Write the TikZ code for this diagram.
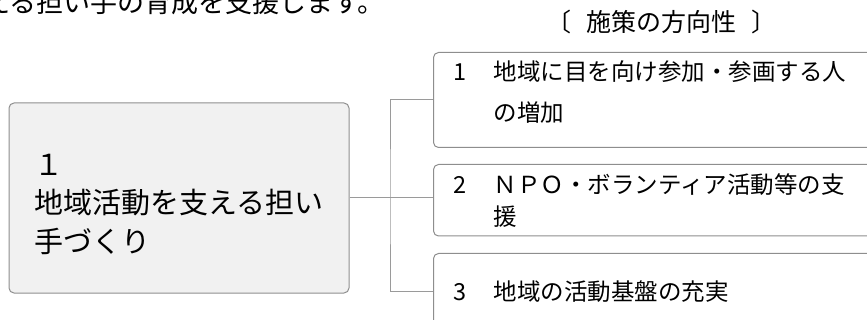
\documentclass[tikz,border=0pt]{standalone}
\usepackage{fontspec}
\setmainfont{Noto Sans CJK JP}
\usetikzlibrary{positioning,calc}
\definecolor{boxgray}{HTML}{8E8E8E}
\definecolor{linegray}{HTML}{9A9A9A}
\definecolor{goalfill}{HTML}{F1F1F1}

\begin{document}
\begin{tikzpicture}[x=1pt,y=-1pt,
    goal/.style={draw=boxgray, fill=goalfill, rounded corners=5pt, line width=1pt, minimum width=340pt, minimum height=190pt, align=left, inner sep=0pt},
    measure/.style={draw=boxgray, fill=white, rounded corners=5pt, line width=1pt, anchor=north west, text width=407pt, inner xsep=20pt, inner ysep=0pt, align=left},
    conn/.style={draw=linegray, line width=1pt}]
    \useasboundingbox (0,0) rectangle (867,320);
    \clip (0,0) rectangle (867,320);
    % lead text, cut off at the top
    \node[font=\fontsize{27}{30}\selectfont, anchor=base west, inner sep=0pt] (lead) at (-17,13) {える担い手の育成を支援します。};
    \node[font=\fontsize{25}{30}\selectfont, inner sep=0pt] (title) at (661,22) {〔\hspace{0.6em}施策の方向性\hspace{0.6em}〕};
    % goal
    \node[goal, font=\fontsize{29}{38.5}\selectfont] (goal) at (179,198) {\rule{0pt}{34pt}１\\地域活動を支える担い\\手づくり};
    % measures
    \node[measure, minimum height=95pt, font=\fontsize{23.5}{41}\selectfont] (m1) at (433,52) {\makebox[40pt][l]{1}地域に目を向け参加・参画する人\\\hspace*{40pt}の増加\rule[-17pt]{0pt}{1pt}};
    \node[measure, minimum height=71.5pt, font=\fontsize{23.5}{32}\selectfont] (m2) at (433,164) {\makebox[40pt][l]{2}ＮＰＯ・ボランティア活動等の支\\\hspace*{40pt}援};
    \node[measure, minimum height=76pt, font=\fontsize{23.5}{32}\selectfont] (m3) at (433,253) {\makebox[40pt][l]{3}地域の活動基盤の充実};
    \coordinate (fork) at (390,198);
    \draw[conn] (goal.east) -- (goal.east -| m2.west);
    \draw[conn] (m1.west) -| (fork) |- (m3.west);
\end{tikzpicture}
\end{document}
